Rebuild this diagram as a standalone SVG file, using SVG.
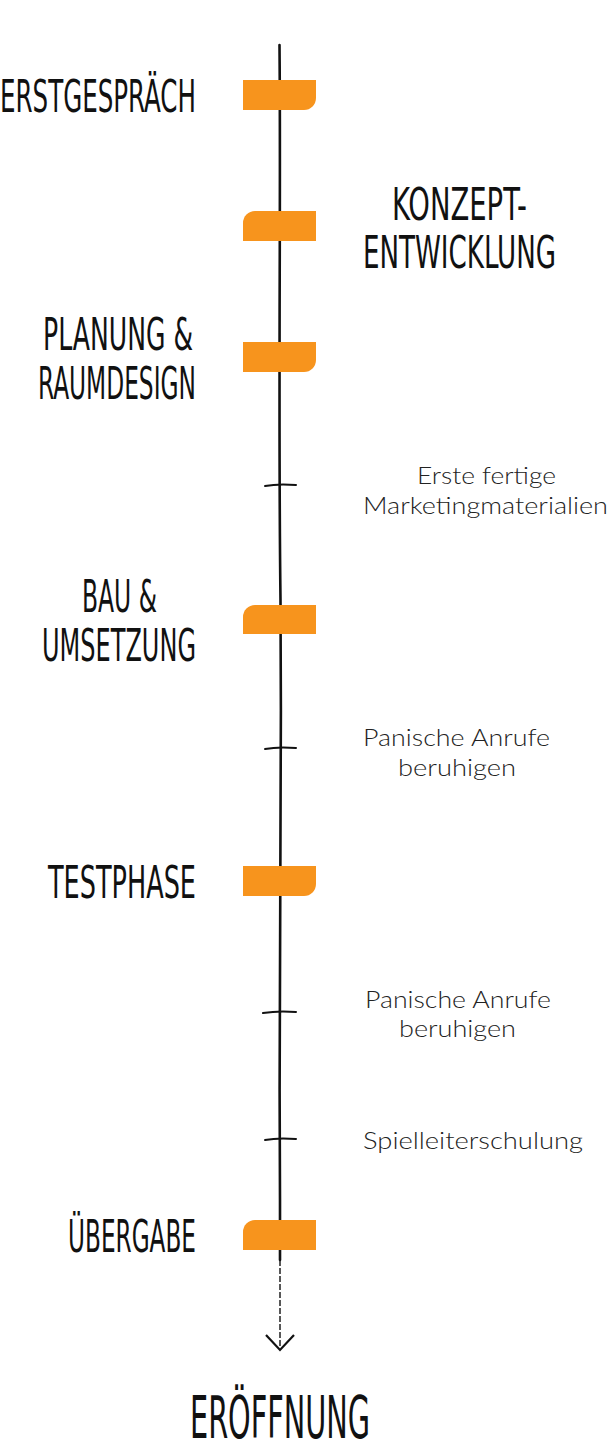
<svg xmlns="http://www.w3.org/2000/svg" width="610" height="1446" viewBox="0 0 610 1446">
<style>
.title{font-family:"Liberation Sans Narrow","DejaVu Sans Condensed","Liberation Sans",sans-serif;font-size:45px;fill:#111;}
.big{font-size:58px;}
.note{font-family:Lato,"Open Sans","Liberation Sans",sans-serif;font-weight:300;font-size:24px;fill:#222;}
.mark{fill:#f7941d;}
.tick{stroke:#111;stroke-width:2;stroke-linecap:round;fill:none;}
</style>
<rect width="610" height="1446" fill="#fff"/>
<g id="connectors">
<path d="M279.5,45 C281,200 278,400 280.5,600 C282,800 278.5,1000 280,1200 L280,1260" stroke="#111" stroke-width="2.6" fill="none" stroke-linecap="round"/>
<path d="M280,1260 L280,1348" stroke="#111" stroke-width="1.4" stroke-dasharray="6 2" fill="none"/>
<path d="M266,1335 L280,1350 L294,1335" stroke="#111" stroke-width="2.2" fill="none" stroke-linejoin="miter"/>
<path class="tick" d="M265,486 C275,484 285,484 296,485"/>
<path class="tick" d="M265,749 C275,747 285,747 296,748"/>
<path class="tick" d="M263,1013 C275,1011 285,1011 296,1012"/>
<path class="tick" d="M265,1140 C275,1138 285,1138 296,1139"/>
</g>
<g id="n1">
<path class="mark" d="M243,80 H316 V98 A12,12 0 0 1 304,110 H243 Z"/>
<text class="title" x="196" y="112" text-anchor="end" textLength="196" lengthAdjust="spacingAndGlyphs">ERSTGESPRÄCH</text>
</g>
<g id="n2">
<path class="mark" d="M255,211 H316 V241 H243 V223 A12,12 0 0 1 255,211 Z"/>
<text class="title" x="392" y="220" textLength="135" lengthAdjust="spacingAndGlyphs">KONZEPT-</text>
<text class="title" x="363" y="268" textLength="193" lengthAdjust="spacingAndGlyphs">ENTWICKLUNG</text>
</g>
<g id="n3">
<path class="mark" d="M243,342 H316 V360 A12,12 0 0 1 304,372 H243 Z"/>
<text class="title" x="43" y="350" textLength="150" lengthAdjust="spacingAndGlyphs">PLANUNG &amp;</text>
<text class="title" x="38" y="399" textLength="158" lengthAdjust="spacingAndGlyphs">RAUMDESIGN</text>
</g>
<g id="n4">
<text class="note" x="417" y="484" textLength="139" lengthAdjust="spacingAndGlyphs">Erste fertige</text>
<text class="note" x="363" y="514" textLength="245" lengthAdjust="spacingAndGlyphs">Marketingmaterialien</text>
</g>
<g id="n5">
<path class="mark" d="M255,605 H316 V634 H243 V617 A12,12 0 0 1 255,605 Z"/>
<text class="title" x="82" y="612" textLength="75" lengthAdjust="spacingAndGlyphs">BAU &amp;</text>
<text class="title" x="42" y="661" textLength="154" lengthAdjust="spacingAndGlyphs">UMSETZUNG</text>
</g>
<g id="n6">
<text class="note" x="363" y="746" textLength="187" lengthAdjust="spacingAndGlyphs">Panische Anrufe</text>
<text class="note" x="398" y="776" textLength="118" lengthAdjust="spacingAndGlyphs">beruhigen</text>
</g>
<g id="n7">
<path class="mark" d="M243,866 H316 V884 A12,12 0 0 1 304,896 H243 Z"/>
<text class="title" x="48" y="898" textLength="148" lengthAdjust="spacingAndGlyphs">TESTPHASE</text>
</g>
<g id="n8">
<text class="note" x="365" y="1008" textLength="186" lengthAdjust="spacingAndGlyphs">Panische Anrufe</text>
<text class="note" x="399" y="1037" textLength="117" lengthAdjust="spacingAndGlyphs">beruhigen</text>
</g>
<g id="n9">
<text class="note" x="363" y="1149" textLength="220" lengthAdjust="spacingAndGlyphs">Spielleiterschulung</text>
</g>
<g id="n10">
<path class="mark" d="M255,1220 H316 V1250 H243 V1232 A12,12 0 0 1 255,1220 Z"/>
<text class="title" x="68" y="1252" textLength="128" lengthAdjust="spacingAndGlyphs">ÜBERGABE</text>
</g>
<g id="n11">
<text class="title big" x="190" y="1438" textLength="180" lengthAdjust="spacingAndGlyphs">ERÖFFNUNG</text>
</g>
</svg>
